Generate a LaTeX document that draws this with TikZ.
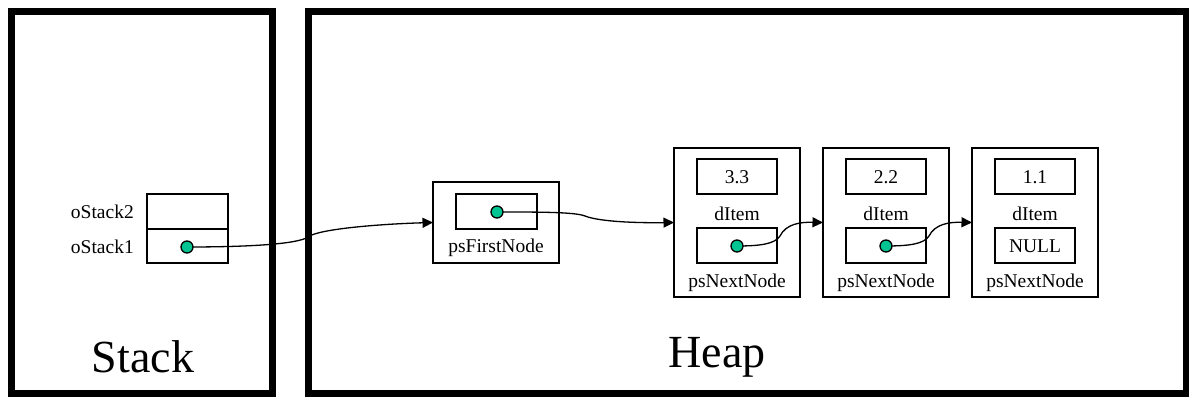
\documentclass[tikz,border=0pt]{standalone}
\usepackage{fontspec}
\setmainfont{Liberation Serif}
\usetikzlibrary{arrows.meta}
\definecolor{dotgreen}{RGB}{0,196,145}
\begin{document}
\begin{tikzpicture}[x=1pt,y=-1pt,
  frame/.style={draw,line width=7pt,inner sep=0,outer sep=0},
  box/.style={draw,line width=1.3pt,inner sep=0,outer sep=0},
  lbl/.style={inner sep=0,font=\fontsize{19.5}{23}\selectfont},
  big/.style={inner sep=0,font=\fontsize{46}{52}\selectfont},
  dot/.style={circle,draw,line width=1.3pt,fill=dotgreen,minimum size=12pt,inner sep=0},
  link/.style={line width=1.3pt,-{Triangle[length=10.5pt,width=10pt]}}]
\useasboundingbox (0,0) rectangle (1189,401);
% frames
\node[frame,minimum width=261pt,minimum height=382pt] (stackframe) at (142,202.5) {};
\node[frame,minimum width=877.5pt,minimum height=382pt] (heapframe) at (747.25,202.5) {};
\node[big] (stacklbl) at (143,357) {Stack};
\node[big] (heaplbl) at (717,357) {Heap};
% stack cells
\node[box,minimum width=81pt,minimum height=35pt] (cell2) at (187.5,211.5) {};
\node[box,minimum width=81pt,minimum height=34pt] (cell1) at (187.5,246) {};
\node[lbl,anchor=east] (l2) at (134,212) {oStack2};
\node[lbl,anchor=east] (l1) at (134,247) {oStack1};
% psFirstNode
\node[box,minimum width=126pt,minimum height=81pt] (ps) at (496,222.5) {};
\node[box,minimum width=81pt,minimum height=35pt] (psin) at (496.5,211.5) {};
\node[lbl] (pslbl) at (496,248) {psFirstNode};
% list nodes
\foreach \n/\cx/\v in {1/737/3.3,2/886/2.2,3/1035/1.1}{
  \node[box,minimum width=126pt,minimum height=149pt] (n\n) at (\cx,222.5) {};
  \node[box,minimum width=80pt,minimum height=35pt] (v\n) at (\cx,176.5) {};
  \node[lbl] (vt\n) at (\cx,177.5) {\v};
  \node[lbl] (di\n) at (\cx,214) {dItem};
  \node[box,minimum width=80pt,minimum height=35pt] (p\n) at (\cx,245.5) {};
  \node[lbl] (pn\n) at (\cx,283) {psNextNode};
}
\node[lbl] (null) at (1035,246) {NULL};
% dots
\coordinate (sdotc) at (187,247);
\coordinate (pdotc) at (497,212);
\coordinate (d1c) at (737,246);
\coordinate (d2c) at (886,246);
% links
\draw[link] (sdotc) .. controls (250,247) and (298,244) .. (308,237) .. controls (318,229) and (380,224) .. (ps.west);
\draw[link] (pdotc) .. controls (540,212) and (575,212) .. (585,216) .. controls (600,222) and (640,223) .. (n1.west);
\draw[link] (d1c) .. controls (760,246) and (775,244) .. (780,236) .. controls (786,224) and (800,222) .. (n2.west);
\draw[link] (d2c) .. controls (909,246) and (924,244) .. (929,236) .. controls (935,224) and (949,222) .. (n3.west);
\node[dot] (sdot) at (sdotc) {};
\node[dot] (pdot) at (pdotc) {};
\node[dot] (d1) at (d1c) {};
\node[dot] (d2) at (d2c) {};
\end{tikzpicture}
\end{document}
